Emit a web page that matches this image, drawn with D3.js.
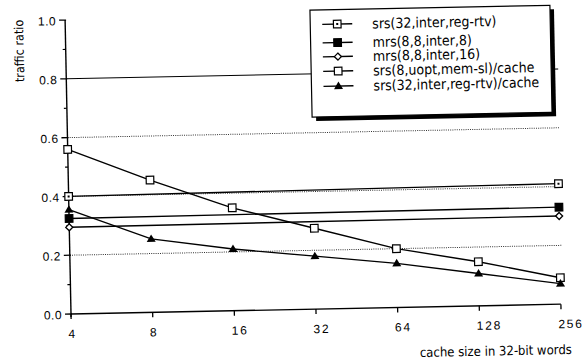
<!DOCTYPE html>
<html>
<head>
<meta charset="utf-8">
<script src="https://cdn.jsdelivr.net/npm/d3@7"></script>
<style>
body { margin: 0; background: #fff; }
svg { display: block; }
text { font-family: "Liberation Sans", Arial, sans-serif; fill: #000; }
.narrow { font-family: "Liberation Sans Narrow", "Arial Narrow", "DejaVu Sans Condensed", sans-serif; }
</style>
</head>
<body>
<svg width="586" height="360"></svg>
<script>
// cache sizes (x, log2) and y ticks
var sizes = [4, 8, 16, 32, 64, 128, 256];
var yTicks = [0, 0.2, 0.4, 0.6, 0.8, 1.0];
var yMinor = [0.1, 0.3, 0.5, 0.7, 0.9];

var seriesNames = [
    "srs(32,inter,reg-rtv)",
    "mrs(8,8,inter,8)",
    "mrs(8,8,inter,16)",
    "srs(8,uopt,mem-sl)/cache",
    "srs(32,inter,reg-rtv)/cache"
];
var seriesShapes = ["dotsquare", "fillsquare", "diamond", "square", "triangle"];

// flat series only have points at the two ends
var endSizes = [4, 256];
var srs32 = [0.40, 0.41];
var mrs8 = [0.325, 0.33];
var mrs16 = [0.295, 0.30];
var srs8Cache = [0.56, 0.45, 0.35, 0.275, 0.20, 0.15, 0.09];
var srs32Cache = [0.355, 0.25, 0.21, 0.18, 0.15, 0.11, 0.07];

var series = [
    { xs: endSizes, ys: srs32 },
    { xs: endSizes, ys: mrs8 },
    { xs: endSizes, ys: mrs16 },
    { xs: sizes, ys: srs8Cache },
    { xs: sizes, ys: srs32Cache }
];

var svg = d3.select("svg");

// the scanned figure sits slightly tilted, so the whole drawing is turned a bit
var root = svg.append("g").attr("transform", "rotate(-1.15,71,314)");

var x = d3.scaleLog().base(2).domain([4, 256]).range([71, 561]);
var y = d3.scaleLinear().domain([0, 1]).range([314, 20]);

function marker(g, shape, cx, cy) {
    if (shape === "square" || shape === "dotsquare" || shape === "fillsquare") {
        g.append("rect")
            .attr("x", cx - 3.8).attr("y", cy - 3.8)
            .attr("width", 7.6).attr("height", 7.6)
            .attr("fill", shape === "fillsquare" ? "#000" : "#fff")
            .attr("stroke", "#000").attr("stroke-width", 1.2);
        if (shape === "dotsquare") {
            g.append("rect").attr("x", cx - 1).attr("y", cy - 1)
                .attr("width", 2).attr("height", 2).attr("fill", "#000");
        }
    } else if (shape === "diamond") {
        g.append("path")
            .attr("d", "M" + cx + "," + (cy - 3.5) + "L" + (cx + 3.5) + "," + cy +
                  "L" + cx + "," + (cy + 3.5) + "L" + (cx - 3.5) + "," + cy + "Z")
            .attr("fill", "#fff").attr("stroke", "#000").attr("stroke-width", 1.3);
    } else if (shape === "triangle") {
        g.append("path")
            .attr("d", "M" + cx + "," + (cy - 4.5) + "L" + (cx + 4.5) + "," + (cy + 3) +
                  "L" + (cx - 4.5) + "," + (cy + 3) + "Z")
            .attr("fill", "#000");
    }
}

// gridlines
root.selectAll(".grid")
    .data(yTicks.filter(function (d) { return d > 0 && d < 1; }))
    .enter().append("line")
    .attr("class", "grid")
    .attr("x1", x(4)).attr("x2", x(256) + 2)
    .attr("y1", function (d) { return y(d); })
    .attr("y2", function (d) { return y(d); })
    .attr("stroke", function (d) { return d === 0.8 ? "#000" : "#333"; })
    .attr("stroke-width", 1)
    .attr("stroke-dasharray", function (d) { return d === 0.8 ? null : "1,1.2"; });

// axes
root.append("line").attr("x1", x(4)).attr("x2", x(4))
    .attr("y1", y(1)).attr("y2", y(0) + 3)
    .attr("stroke", "#000").attr("stroke-width", 1.4);
root.append("line").attr("x1", x(4)).attr("x2", x(256))
    .attr("y1", y(0)).attr("y2", y(0))
    .attr("stroke", "#000").attr("stroke-width", 1.4);

root.selectAll(".ytick")
    .data(yTicks).enter().append("line")
    .attr("x1", x(4) - 6).attr("x2", x(4) + 1)
    .attr("y1", function (d) { return y(d); })
    .attr("y2", function (d) { return y(d); })
    .attr("stroke", "#000").attr("stroke-width", 1.3);
root.selectAll(".yminor")
    .data(yMinor).enter().append("line")
    .attr("x1", x(4) - 3).attr("x2", x(4))
    .attr("y1", function (d) { return y(d); })
    .attr("y2", function (d) { return y(d); })
    .attr("stroke", "#000").attr("stroke-width", 1.2);

root.selectAll(".ylab")
    .data(yTicks).enter().append("text")
    .attr("x", x(4) - 9)
    .attr("y", function (d) { return y(d) + 5; })
    .attr("text-anchor", "end")
    .attr("font-size", 12)
    .attr("letter-spacing", 0.5)
    .text(function (d) { return d.toFixed(1); });

root.selectAll(".xtick")
    .data(sizes).enter().append("line")
    .attr("x1", function (d) { return x(d); })
    .attr("x2", function (d) { return x(d); })
    .attr("y1", y(0)).attr("y2", y(0) + 5)
    .attr("stroke", "#000").attr("stroke-width", 1.3);

root.selectAll(".xlab")
    .data(sizes).enter().append("text")
    .attr("x", function (d) { return x(d) - 3; })
    .attr("y", y(0) + 24)
    .attr("font-size", 12)
    .attr("letter-spacing", 1.8)
    .text(function (d) { return d; });

root.append("text").attr("class", "narrow")
    .attr("x", 495).attr("y", 364)
    .attr("text-anchor", "middle")
    .attr("font-size", 13)
    .text("cache size in 32-bit words");

root.append("text").attr("class", "narrow")
    .attr("transform", "translate(29,50) rotate(-90)")
    .attr("text-anchor", "middle")
    .attr("font-size", 12.5)
    .text("traffic ratio");

// series
var line = d3.line()
    .x(function (d) { return x(d[0]); })
    .y(function (d) { return y(d[1]); });

series.forEach(function (s) {
    var pts = s.xs.map(function (v, j) { return [v, s.ys[j]]; });
    root.append("path")
        .attr("d", line(pts))
        .attr("fill", "none")
        .attr("stroke", "#000")
        .attr("stroke-width", 1.4);
});
series.forEach(function (s, i) {
    var g = root.append("g");
    s.xs.forEach(function (v, j) {
        marker(g, seriesShapes[i], x(v), y(s.ys[j]));
    });
});

// legend
var legX = 316, legY = 15, legW = 240, legH = 107;
var rowY = [29.5, 48, 62, 76.5, 91.5];
var leg = root.append("g");
leg.append("rect").attr("x", legX + 4).attr("y", legY + 4)
    .attr("width", legW).attr("height", legH).attr("fill", "#000");
leg.append("rect").attr("x", legX).attr("y", legY)
    .attr("width", legW).attr("height", legH)
    .attr("fill", "#fff").attr("stroke", "#000").attr("stroke-width", 1.2);

seriesNames.forEach(function (name, i) {
    leg.append("line")
        .attr("x1", legX + 12).attr("x2", legX + 42)
        .attr("y1", rowY[i]).attr("y2", rowY[i])
        .attr("stroke", "#000").attr("stroke-width", 1.4);
    marker(leg, seriesShapes[i], legX + 27, rowY[i]);
    leg.append("text").attr("class", "narrow")
        .attr("x", legX + 62).attr("y", rowY[i] + 5)
        .attr("font-size", 14)
        .text(name);
});
</script>
</body>
</html>
